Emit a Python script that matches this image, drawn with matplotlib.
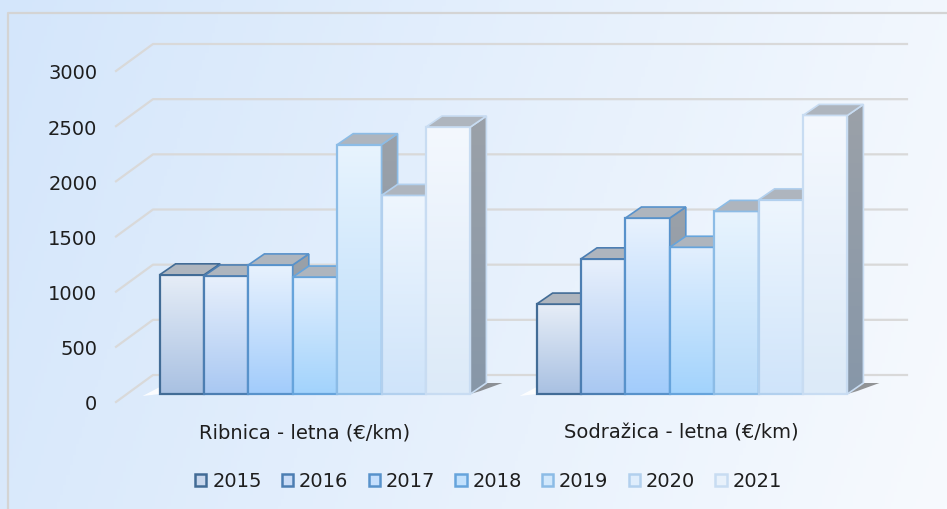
import numpy as np
import matplotlib
matplotlib.use('Agg')
import matplotlib.pyplot as plt
from matplotlib.patches import Polygon, Rectangle, Patch
from matplotlib.colors import to_rgb

plt.rcParams['font.family'] = ['DejaVu Sans']

categories = ['Ribnica - letna (€/km)', 'Sodražica - letna (€/km)']
years = ['2015', '2016', '2017', '2018', '2019', '2020', '2021']
ribnica = [1080, 1070, 1170, 1060, 2260, 1800, 2420]
sodrazica = [815, 1225, 1595, 1330, 1655, 1760, 2525]
yticks = [0, 500, 1000, 1500, 2000, 2500, 3000]

edge_cols = ['#426c96', '#4c7eb2', '#5892cb', '#66a4dc', '#8cbce6', '#b2d0ee', '#c8dcf2']
top_cols = ['#e6edf7', '#e8f0fc', '#e8f2fe', '#e2effe', '#e8f4fe', '#eef6fe', '#f4f8fe']
bot_cols = ['#a9c1e2', '#a9c8f2', '#a2ccfb', '#a2d3fc', '#badcfa', '#cfe4fa', '#dceaf8']

W, H = 947, 510
fig = plt.figure(figsize=(W / 100, H / 100), dpi=100)

# background wash
bg = fig.add_axes([0, 0, 1, 1], zorder=0)
gx, gy = np.meshgrid(np.linspace(0, 1, 300), np.linspace(0, 1, 150))
t = np.clip(0.85 * gx + 0.15 * gy, 0, 1)
c0 = np.array([212, 230, 251]) / 255
c1 = np.array([247, 250, 254]) / 255
bg.imshow(c0 + (c1 - c0) * t[..., None], aspect='auto', extent=[0, 1, 0, 1])
bg.plot([7.5 / W, 7.5 / W, 1], [0, 1 - 13.5 / H, 1 - 13.5 / H], color='#d4d4d4', lw=1.6)
bg.set_xlim(0, 1)
bg.set_ylim(0, 1)
bg.axis('off')

ax = fig.add_axes([116 / W, (H - 403) / H, 754 / W, 331 / H], zorder=1)
ax.patch.set_visible(False)
sx = 754 / 2.0
sy = 331 / 3000.0


def shift(dpx, dpy):
    return dpx / sx, dpy / sy


wall = shift(37, 27)
front = shift(10.5, 8)
deep = shift(16, 11)
bw = 44.4 / sx

# left wall + back wall grid
for v in yticks:
    ax.plot([-0.5, -0.5 + wall[0], 1.5 + wall[0]], [v, v + wall[1], v + wall[1]],
            color='#d9d9d9', lw=1.6, clip_on=False, zorder=1)


def vgrad(ctop, cbot, n=64):
    a = np.array(to_rgb(ctop))
    b = np.array(to_rgb(cbot))
    s = np.linspace(0, 1, n)[:, None]
    return (a + (b - a) * s)[:, None, :]


def mix(c1, c2):
    return tuple((np.array(to_rgb(c1)) + np.array(to_rgb(c2))) / 2)


z = 2.0
for g, vals in enumerate([ribnica, sodrazica]):
    gl = g - 3.5 * bw + front[0]
    gr = g + 3.5 * bw + front[0]
    y0 = front[1]
    # floor shadows
    ax.add_patch(Polygon([(gl - 17 / sx, y0 - 2 / sy), (gl + 6 / sx, y0 + 10 / sy), (gl, y0)],
                         closed=True, fc='white', ec='none', alpha=0.9, zorder=z, clip_on=False))
    ax.add_patch(Polygon([(gr, y0), (gr + deep[0], y0 + deep[1]),
                          (gr + deep[0] + 16 / sx, y0 + deep[1]), (gr + 10 / sx, y0 + 3 / sy)],
                         closed=True, fc='#505050', ec='none', alpha=0.6, zorder=z, clip_on=False))
    z += 0.01
    for i, v in enumerate(vals):
        x0 = g + (i - 3.5) * bw + front[0]
        x1 = x0 + bw
        y1 = v + front[1]
        ec = edge_cols[i]
        # front face with gradient
        rect = Rectangle((x0, y0), bw, v, fc='none', ec=ec, lw=1.6, zorder=z + 0.002)
        im = ax.imshow(vgrad(top_cols[i], bot_cols[i]), extent=[x0, x1, y0, y1],
                       aspect='auto', interpolation='bilinear', zorder=z)
        ax.add_patch(rect)
        im.set_clip_path(rect)
        # side face
        side = Polygon([(x1, y0), (x1 + deep[0], y0 + deep[1]), (x1 + deep[0], y1 + deep[1]), (x1, y1)],
                       closed=True, fc='none', ec=ec, lw=1.2, zorder=z + 0.004, clip_on=False)
        sim = ax.imshow(vgrad('#9ba1a9', '#8797a8'), extent=[x1, x1 + deep[0], y0, y1 + deep[1]],
                        aspect='auto', interpolation='bilinear', zorder=z + 0.003)
        ax.add_patch(side)
        sim.set_clip_path(side)
        # top face
        ax.add_patch(Polygon([(x0, y1), (x1, y1), (x1 + deep[0], y1 + deep[1]), (x0 + deep[0], y1 + deep[1])],
                             closed=True, fc='#aeb5be', ec=ec, lw=1.2, zorder=z + 0.005, clip_on=False))
        z += 0.01

ax.set_xlim(-0.5, 1.5)
ax.set_ylim(0, 3000)
ax.set_yticks(yticks, [str(v) for v in yticks])
ax.set_xticks([0, 1], categories)
ax.tick_params(axis='y', length=0, pad=13.5, labelsize=14, labelcolor='#1e1e1e')
ax.tick_params(axis='x', length=0, pad=15, labelsize=14, labelcolor='#1e1e1e')
for sp in ax.spines.values():
    sp.set_visible(False)

handles = [Patch(fc=mix(top_cols[i], bot_cols[i]), ec=edge_cols[i], lw=1.8, label=years[i])
           for i in range(7)]
fig.legend(handles=handles, loc='center', bbox_to_anchor=(488.5 / W, 28 / H), ncol=7,
           frameon=False, fontsize=14, handlelength=0.57, handleheight=0.57,
           handletextpad=0.3, columnspacing=1.05, borderpad=0, labelcolor='#1e1e1e')

fig.savefig('out.png', dpi=100)
